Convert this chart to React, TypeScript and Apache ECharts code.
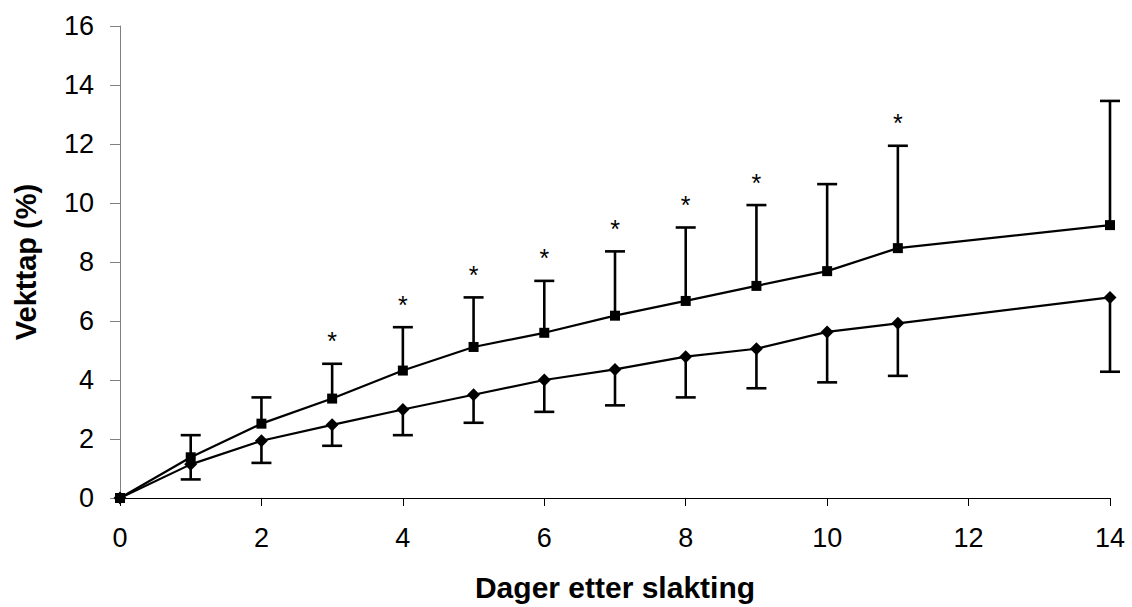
import React, { useEffect, useRef } from "react";
import * as echarts from "echarts";

const days = [0, 1, 2, 3, 4, 5, 6, 7, 8, 9, 10, 11, 14];
const upperMean = [0, 1.38, 2.52, 3.37, 4.32, 5.12, 5.6, 6.18, 6.68, 7.19, 7.69, 8.47, 9.25];
const upperErrTop = [0, 2.13, 3.41, 4.55, 5.79, 6.8, 7.36, 8.36, 9.17, 9.93, 10.64, 11.94, 13.46];
const lowerMean = [0, 1.14, 1.94, 2.48, 3.0, 3.5, 4.0, 4.36, 4.79, 5.06, 5.63, 5.92, 6.8];
const lowerErrBottom = [0, 0.63, 1.19, 1.77, 2.13, 2.55, 2.92, 3.14, 3.41, 3.72, 3.92, 4.14, 4.28];
const significantDays = [3, 4, 5, 6, 7, 8, 9, 11];
const xTitle = "Dager etter slakting";
const yTitle = "Vekttap (%)";

const FONT = "'Liberation Sans', Arial, sans-serif";

function errorBarItem(params: any, api: any) {
  const x = api.value(0);
  const m = api.value(1);
  const e = api.value(2);
  if (Math.abs(m - e) < 1e-9) return null;
  const p1 = api.coord([x, m]);
  const p2 = api.coord([x, e]);
  const hw = 10;
  const style = { stroke: "#000", lineWidth: 2.6, fill: "none" };
  return {
    type: "group",
    children: [
      { type: "line", shape: { x1: p1[0], y1: p1[1], x2: p2[0], y2: p2[1] }, style },
      { type: "line", shape: { x1: p2[0] - hw, y1: p2[1], x2: p2[0] + hw, y2: p2[1] }, style },
    ],
  };
}

export default function App() {
  const ref = useRef<HTMLDivElement>(null);
  useEffect(() => {
    if (!ref.current) return;
    const chart = echarts.init(ref.current, undefined, { renderer: "svg" });
    const upperData = days.map((d, i) => [d, upperMean[i]]);
    const lowerData = days.map((d, i) => [d, lowerMean[i]]);
    const upperErr = days.map((d, i) => [d, upperMean[i], upperErrTop[i]]);
    const lowerErr = days.map((d, i) => [d, lowerMean[i], lowerErrBottom[i]]);
    const starData = significantDays.map((d) => [d, upperErrTop[days.indexOf(d)]]);

    chart.setOption({
      animation: false,
      backgroundColor: "#fff",
      grid: { left: 120, right: 22, top: 26, bottom: 103.5, containLabel: false },
      xAxis: {
        type: "value",
        min: 0,
        max: 14,
        interval: 2,
        name: xTitle,
        nameLocation: "middle",
        nameGap: 74,
        nameTextStyle: { fontFamily: FONT, fontSize: 30, fontWeight: "bold", color: "#000" },
        axisLine: { show: true, onZero: false, lineStyle: { color: "#000", width: 1 } },
        axisTick: { show: true, inside: false, length: 8, lineStyle: { color: "#000" } },
        axisLabel: { fontFamily: FONT, fontSize: 27, color: "#000", margin: 26 },
        splitLine: { show: false },
      },
      yAxis: {
        type: "value",
        min: 0,
        max: 16,
        interval: 2,
        name: yTitle,
        nameLocation: "middle",
        nameGap: 80,
        nameRotate: 90,
        nameTextStyle: { fontFamily: FONT, fontSize: 29, fontWeight: "bold", color: "#000" },
        axisLine: { show: true, lineStyle: { color: "#808080", width: 1 } },
        axisTick: { show: true, inside: false, length: 10, lineStyle: { color: "#808080" } },
        axisLabel: { fontFamily: FONT, fontSize: 27, color: "#000", margin: 26 },
        splitLine: { show: false },
      },
      series: [
        {
          type: "custom",
          renderItem: errorBarItem,
          data: upperErr,
          encode: { x: 0, y: [1, 2] },
          z: 1,
        },
        {
          type: "custom",
          renderItem: errorBarItem,
          data: lowerErr,
          encode: { x: 0, y: [1, 2] },
          z: 1,
        },
        {
          type: "line",
          data: upperData,
          symbol: "rect",
          symbolSize: 10,
          showAllSymbol: true,
          lineStyle: { color: "#000", width: 2.2 },
          itemStyle: { color: "#000" },
          z: 3,
        },
        {
          type: "line",
          data: lowerData,
          symbol: "diamond",
          symbolSize: 13,
          showAllSymbol: true,
          lineStyle: { color: "#000", width: 2.2 },
          itemStyle: { color: "#000" },
          z: 3,
        },
        {
          type: "custom",
          data: starData,
          encode: { x: 0, y: 1 },
          renderItem: (params: any, api: any) => {
            const p = api.coord([api.value(0), api.value(1)]);
            return {
              type: "text",
              x: p[0],
              y: p[1] - 10,
              style: {
                text: "*",
                fontFamily: FONT,
                fontSize: 25,
                fill: "#000",
                align: "center",
                verticalAlign: "bottom",
              },
            };
          },
          z: 4,
        },
      ],
    });
    return () => chart.dispose();
  }, []);
  return (
    <div
      ref={ref}
      style={{ position: "fixed", left: 0, top: 0, width: 1132, height: 607 }}
    />
  );
}
